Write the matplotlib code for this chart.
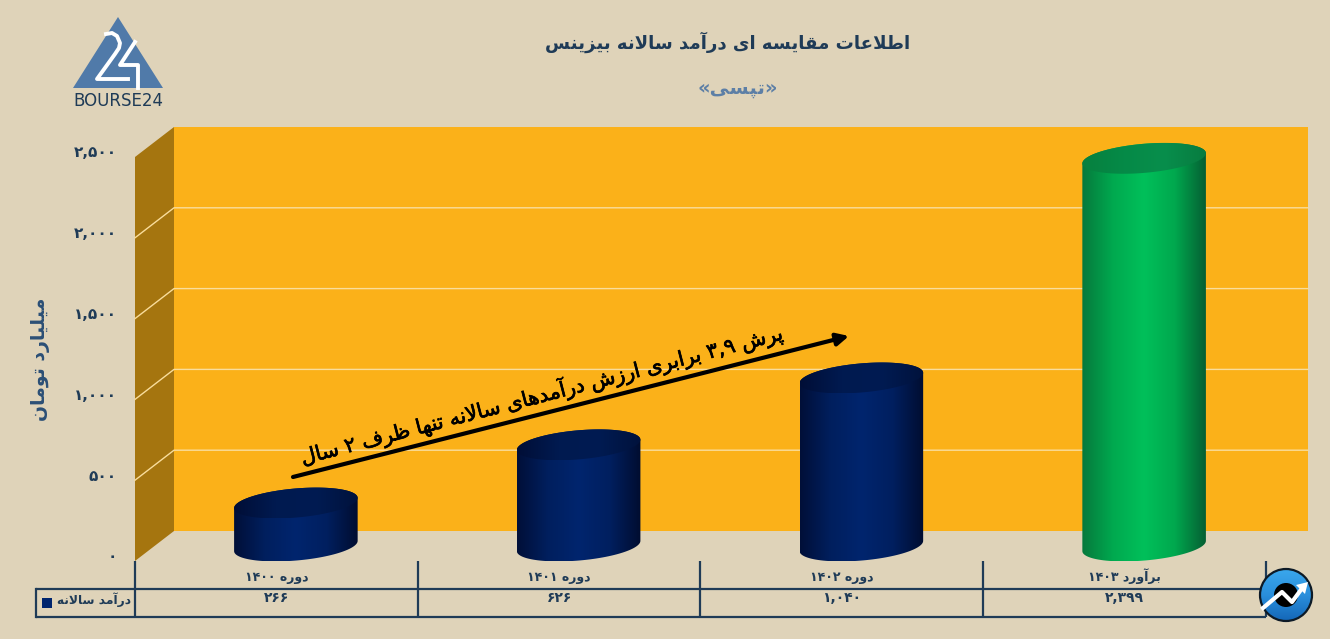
import re
import numpy as np
import matplotlib
matplotlib.use('Agg')
import matplotlib.pyplot as plt
import matplotlib.patheffects as pe
from matplotlib.colors import LinearSegmentedColormap
from matplotlib.patches import Circle, PathPatch, Polygon, Rectangle
from matplotlib.path import Path
from matplotlib.transforms import ScaledTranslation, blended_transform_factory

# Data
categories = ['دوره ۱۴۰۰', 'دوره ۱۴۰۱', 'دوره ۱۴۰۲', 'برآورد ۱۴۰۳']
revenue = [266, 626, 1040, 2399]
y_ticks = [0, 500, 1000, 1500, 2000, 2500]
series_name = 'درآمد سالانه'
y_label = 'میلیارد تومان'
title = 'اطلاعات مقایسه ای درآمد سالانه بیزینس'
subtitle = '«تپسی»'
note = 'پرش ۳,۹ برابری ارزش درآمدهای سالانه تنها ظرف ۲ سال'

# Colours
BG = '#dfd3b9'
WALL = '#fbb119'
SIDE = '#a5750f'
GRID = '#f9dd9c'
INK = '#1f3b57'
BLUE = '#5d7fa6'


# matplotlib does not shape Arabic script, so pick presentation forms by hand
FORMS = {
    'ا': 'ﺍﺎ', 'آ': 'ﺁﺂ', 'د': 'ﺩﺪ', 'ر': 'ﺭﺮ', 'ز': 'ﺯﺰ', 'و': 'ﻭﻮ',
    'ب': 'ﺏﺐﺑﺒ', 'پ': 'ﭖﭗﭘﭙ', 'ت': 'ﺕﺖﺗﺘ', 'س': 'ﺱﺲﺳﺴ', 'ش': 'ﺵﺶﺷﺸ',
    'ط': 'ﻁﻂﻃﻄ', 'ظ': 'ﻅﻆﻇﻈ', 'ع': 'ﻉﻊﻋﻌ', 'ف': 'ﻑﻒﻓﻔ', 'ق': 'ﻕﻖﻗﻘ',
    'ل': 'ﻝﻞﻟﻠ', 'م': 'ﻡﻢﻣﻤ', 'ن': 'ﻥﻦﻧﻨ', 'ه': 'ﻩﻪﻫﻬ',
    'ی': '\ufbfc\ufbfd\ufbfe\ufbff',
}
MIRROR = {'«': '»', '»': '«'}


def fa(text):
    out = []
    i = 0
    while i < len(text):
        ch = text[i]
        if ch not in FORMS:
            out.append(MIRROR.get(ch, ch))
            i += 1
            continue
        before = i > 0 and len(FORMS.get(text[i - 1], '')) == 4
        # lam + alef is one ligature
        if ch == 'ل' and i + 1 < len(text) and text[i + 1] == 'ا':
            out.append('ﻼ' if before else 'ﻻ')
            i += 2
            continue
        after = i + 1 < len(text) and text[i + 1] in FORMS
        forms = FORMS[ch]
        if len(forms) == 2:
            out.append(forms[1] if before else forms[0])
        elif before and after:
            out.append(forms[3])
        elif before:
            out.append(forms[1])
        elif after:
            out.append(forms[2])
        else:
            out.append(forms[0])
        i += 1
    # visual order, number runs stay left to right
    return ''.join(re.findall(r'[۰-۹,]+|.', ''.join(out))[::-1])


def fa_number(value):
    return f'{value:,}'.translate(str.maketrans('0123456789', '۰۱۲۳۴۵۶۷۸۹'))


W, H = 1330, 639
plt.rcParams['font.family'] = 'DejaVu Sans'
fig = plt.figure(figsize=(W / 100, H / 100), dpi=100, facecolor=BG)

# Main axes is the front plane of the 3D box
FRONT_L, FRONT_R, FRONT_T, FRONT_B = 135, 1266, 157, 561
ax = fig.add_axes([FRONT_L / W, 1 - FRONT_B / H, (FRONT_R - FRONT_L) / W, (FRONT_B - FRONT_T) / H])
ax.patch.set_visible(False)
for spine in ax.spines.values():
    spine.set_visible(False)

SX = (FRONT_R - FRONT_L) / 4
SY = (FRONT_B - FRONT_T) / 2500
DX = 39 / SX
DY = 30 / SY
WALL_R = 3.5 + 42 / SX

# Back wall, side wall, grid
ax.add_patch(Polygon([(-0.5 + DX, DY), (WALL_R, DY), (WALL_R, 2500 + DY), (-0.5 + DX, 2500 + DY)],
                     fc=WALL, ec='none', clip_on=False, zorder=1))
ax.add_patch(Polygon([(-0.5, 0), (-0.5 + DX, DY), (-0.5 + DX, 2500 + DY), (-0.5, 2500)],
                     fc=SIDE, ec='none', clip_on=False, zorder=1))
for tick in y_ticks[1:-1]:
    ax.plot([-0.5, -0.5 + DX, WALL_R], [tick, tick + DY, tick + DY], color=GRID, lw=1,
            clip_on=False, zorder=2)

# Cylinder foot and cap shape, in pixels
SEMI_A, SEMI_B, TILT = 62, 14.5, np.radians(5)


def ellipse_points(cx, cy, t):
    ex = SEMI_A * np.cos(t) * np.cos(TILT) - SEMI_B * np.sin(t) * np.sin(TILT)
    ey = SEMI_A * np.cos(t) * np.sin(TILT) + SEMI_B * np.sin(t) * np.cos(TILT)
    return np.column_stack([cx + ex / SX, cy + ey / SY])


def gradient_fill(points, cmap, zorder):
    # horizontal gradient clipped to the outline
    x0, x1 = points[:, 0].min(), points[:, 0].max()
    y0, y1 = points[:, 1].min(), points[:, 1].max()
    im = ax.imshow(np.linspace(0, 1, 256)[None, :], cmap=cmap, aspect='auto',
                   extent=(x0, x1, y0, y1), zorder=zorder)
    im.set_clip_path(PathPatch(Path(np.vstack([points, points[0]])), transform=ax.transData))
    im.set_clip_box(fig.bbox)


def cylinder(x, value, body, top):
    cx = x + (DX / 2)
    base = DY / 2
    start = np.arctan2(-SEMI_B * np.sin(TILT), SEMI_A * np.cos(TILT))
    # lower half of the foot, then upper half of the cap
    lower = ellipse_points(cx, base, np.linspace(start - np.pi, start, 60))
    upper = ellipse_points(cx, base + value, np.linspace(start, start + np.pi, 60))
    gradient_fill(np.vstack([lower, upper]), body, 3)
    cap = ellipse_points(cx, base + value, np.linspace(0, 2 * np.pi, 120))
    gradient_fill(cap, top, 4)


navy_body = LinearSegmentedColormap.from_list('nb', ['#000f38', '#001f5e', '#00256e', '#001f5f', '#000d30'])
navy_top = LinearSegmentedColormap.from_list('nt', ['#000e36', '#001a50', '#001b52', '#00123c'])
green_body = LinearSegmentedColormap.from_list('gb', ['#07793c', '#00a94f', '#00c05a', '#00a84e', '#055f33'])
green_top = LinearSegmentedColormap.from_list('gt', ['#07803f', '#058a47', '#088e4c', '#077c40'])

for i, value in enumerate(revenue):
    if i == len(revenue) - 1:
        cylinder(i, value, green_body, green_top)
    else:
        cylinder(i, value, navy_body, navy_top)

# Axes ticks
ax.set_xlim(-0.5, 3.5)
ax.set_ylim(0, 2500)
ax.set_xticks(range(len(categories)))
ax.set_xticklabels([fa(c) for c in categories], fontsize=9, fontweight='bold', color=INK, va='baseline')
ax.set_yticks(y_ticks)
ax.set_yticklabels([fa_number(t) for t in y_ticks], fontsize=11, fontweight='bold', color=INK)
ax.tick_params(axis='x', length=0, pad=14.5)
ax.tick_params(axis='y', length=0, pad=13)
# labels sit a little above their tick
lift = ScaledTranslation(0, 4 / 72, fig.dpi_scale_trans)
for label in ax.get_yticklabels():
    label.set_transform(label.get_transform() + lift)

# Everything else sits on an overlay in pixel coordinates
over = fig.add_axes([0, 0, 1, 1])
over.patch.set_visible(False)
over.axis('off')

over.text(728, 42, fa(title), ha='center', va='center', fontsize=13.1, fontweight='bold', color=INK)
over.text(738, 88, fa(subtitle), ha='center', va='center', fontsize=14, fontweight='bold', color=BLUE)
over.text(41, 359, fa(y_label), ha='center', va='center', rotation=90, fontsize=13.6, fontweight='bold', color='#2b4f76')

# Table under the chart
for y in (589, 617):
    over.plot([36, 1266], [y, y], color=INK, lw=1.6, solid_capstyle='butt')
over.plot([36, 36], [589, 617], color=INK, lw=1.6)
for x in (135, 418, 700, 983, 1266):
    over.plot([x, x], [561, 617], color=INK, lw=1.6, solid_capstyle='butt')
over.add_patch(Rectangle((42, 598), 10, 10, fc='#00256e', ec='none'))
over.text(131, 600, fa(series_name), ha='right', va='center', fontsize=8.8, fontweight='bold', color=INK)
row = blended_transform_factory(ax.transData, over.transData)
for i, value in enumerate(revenue):
    over.text(i, 598, fa_number(value), transform=row, ha='center', va='center',
              fontsize=10, fontweight='bold', color=INK)

# Rising arrow with its note
over.annotate('', xy=(849, 336), xytext=(293, 477),
              arrowprops=dict(arrowstyle='-|>', lw=3, color='black', mutation_scale=18, shrinkA=0, shrinkB=0))
over.text(541, 395, fa(note), ha='center', va='center', rotation=14.6, rotation_mode='anchor',
          fontsize=14.9, color='black', path_effects=[pe.withStroke(linewidth=0.5, foreground='black')])

# Logo
over.add_patch(Polygon([(118, 17), (163, 88), (73, 88)], fc='#507aa9', ec='none'))
over.plot([106, 112, 117, 120, 119, 115, 97, 128], [34, 33, 36, 43, 48, 54, 79, 79], color='white', lw=2.8,
          solid_joinstyle='round')
over.plot([135, 120, 138, 138], [42, 65, 65, 88], color='white', lw=2.8)
over.text(118, 101, 'BOURSE24', ha='center', va='center', fontsize=12, color=INK)

# Round badge at the end of the table
blues = LinearSegmentedColormap.from_list('bl', ['#3aa7ec', '#2a8fdc', '#1467b8'])
disc = over.imshow(np.linspace(0, 1, 64)[:, None], cmap=blues, aspect='auto', extent=(1260, 1312, 621, 569), zorder=5)
disc.set_clip_path(Circle((1286, 595), 26, transform=over.transData))
over.add_patch(Circle((1286, 595), 26, fc='none', ec='#0d1a26', lw=1.6, zorder=6))
over.add_patch(Circle((1286, 595), 12, fc='black', ec='none', zorder=6))
over.plot([1263, 1282, 1292, 1303], [608, 592, 602, 587], color='white', lw=3, zorder=7)
over.add_patch(Polygon([(1308, 582), (1296, 585), (1305, 594)], fc='white', ec='none', zorder=7))

over.set_xlim(0, W)
over.set_ylim(H, 0)

fig.savefig('out.png', dpi=100, facecolor=BG)
